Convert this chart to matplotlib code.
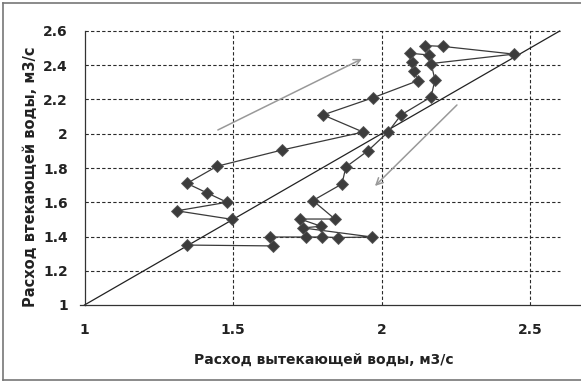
import matplotlib
matplotlib.use("Agg")
import matplotlib.pyplot as plt
from matplotlib.lines import Line2D

# Data: outflow (x) vs inflow (y), in time order (hysteresis loop)
outflow = [1.497, 1.311, 1.480, 1.412, 1.345, 1.446, 1.665, 1.938, 1.803, 1.971,
           2.123, 2.109, 2.103, 2.096, 2.160, 2.146, 2.207, 2.446, 2.167, 2.180,
           2.167, 2.066, 2.022, 1.954, 1.880, 1.867, 1.769, 1.843, 1.726, 1.796,
           1.736, 1.968, 1.853, 1.800, 1.746, 1.625, 1.635, 1.345]
inflow = [1.500, 1.550, 1.600, 1.655, 1.710, 1.810, 1.905, 2.010, 2.110, 2.210,
          2.310, 2.365, 2.420, 2.470, 2.460, 2.515, 2.510, 2.465, 2.410, 2.315,
          2.215, 2.110, 2.010, 1.900, 1.806, 1.707, 1.610, 1.502, 1.502, 1.460,
          1.450, 1.397, 1.394, 1.397, 1.397, 1.397, 1.345, 1.350]

diag_x = [1.0, 2.6]
diag_y = [1.0, 2.6]

x_ticks = [1, 1.5, 2, 2.5]
x_tick_labels = ["1", "1.5", "2", "2.5"]
y_ticks = [1, 1.2, 1.4, 1.6, 1.8, 2, 2.2, 2.4, 2.6]
y_tick_labels = ["1", "1.2", "1.4", "1.6", "1.8", "2", "2.2", "2.4", "2.6"]

arrow_up = ((1.449, 2.022), (1.934, 2.437))
arrow_down = ((2.254, 2.168), (1.978, 1.695))

xlabel = "Расход вытекающей воды, м3/с"
ylabel = "Расход втекающей воды, м3/с"

fig = plt.figure(figsize=(5.81, 3.82), dpi=100)
ax = fig.add_axes([84.5 / 581, 1 - 305 / 382, 1 - 84.5 / 581, (305 - 31) / 382])
ax.set_xlim(1, 1 + (581 - 84.5) / 297)
ax.set_ylim(1, 2.6)

# gridlines (dashed)
for yv in y_ticks[1:]:
    ax.plot([1, 2.6], [yv, yv], ls=(0, (3, 2)), color="#2a2a2a", lw=0.8,
            clip_on=False, zorder=1)
for xv in x_ticks[1:]:
    ax.plot([xv, xv], [1, 2.6], ls=(0, (3, 2)), color="#2a2a2a", lw=0.8,
            clip_on=False, zorder=1)

# diagonal
ax.plot(diag_x, diag_y, color="#222222", lw=0.9, zorder=2, clip_on=False)

# series
ax.plot(outflow, inflow, color="#3a3a3a", lw=0.9, marker="D", markersize=6.5,
        markerfacecolor="#3c3c3c", markeredgecolor="#555555", markeredgewidth=0.6,
        zorder=3, clip_on=False)

# arrows
for (s, e) in (arrow_up, arrow_down):
    ax.annotate("", xy=e, xytext=s,
                arrowprops=dict(arrowstyle="->", color="#999999", lw=1.1,
                                mutation_scale=12, shrinkA=0, shrinkB=0))

for sp in ["top", "right"]:
    ax.spines[sp].set_visible(False)
ax.spines["left"].set_color("#333333")
ax.spines["bottom"].set_color("#333333")
ax.spines["left"].set_linewidth(0.9)
ax.spines["bottom"].set_linewidth(0.9)
ax.spines["left"].set_bounds(1, 2.6)

ax.set_xticks(x_ticks)
ax.set_xticklabels(x_tick_labels)
ax.set_yticks(y_ticks)
ax.set_yticklabels(y_tick_labels)
ax.tick_params(length=0, pad=12, labelsize=10)
ax.tick_params(axis="x", pad=13)
for lab in ax.get_xticklabels() + ax.get_yticklabels():
    lab.set_fontweight("bold")
    lab.set_color("#222222")

# small left tick at y=1
ax.plot([0.985, 1.0], [1, 1], color="#333333", lw=0.9, clip_on=False)

fig.text(324 / 581, 1 - 360 / 382, xlabel, ha="center", va="center",
         fontsize=10, fontweight="bold", color="#222222")
fig.text(31 / 581, 1 - 177 / 382, ylabel, ha="center", va="center",
         rotation=90, fontsize=10.5, fontweight="bold", color="#222222")

# figure frame
frame_kw = dict(color="#777777", lw=1.2, transform=fig.transFigure)
fig.add_artist(Line2D([3 / 581, 1.0], [1 - 3 / 382, 1 - 3 / 382], **frame_kw))
fig.add_artist(Line2D([3 / 581, 3 / 581], [1 - 3 / 382, 1 - 380 / 382], **frame_kw))
fig.add_artist(Line2D([3 / 581, 1.0], [1 - 380 / 382, 1 - 380 / 382], **frame_kw))

fig.savefig("out.png", dpi=100)
